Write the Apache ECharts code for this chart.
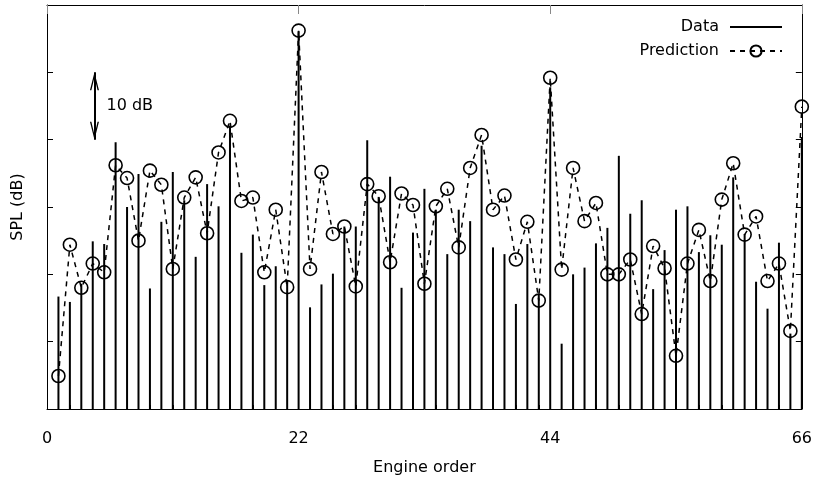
<!DOCTYPE html>
<html>
<head>
<meta charset="utf-8">
<script src="https://cdn.jsdelivr.net/npm/echarts@6/dist/echarts.min.js"></script>
<style>
html,body{margin:0;padding:0;background:#fff;}
#chart{width:815px;height:485px;}
</style>
</head>
<body>
<div id="chart"></div>
<script>
// Engine orders 1..66
var orders = [];
for (var i = 1; i <= 66; i++) orders.push(i);

// Measured SPL (dB, relative) per engine order
var dataSPL = [
  16.7, 15.9, 18.6, 24.9, 24.5, 39.6, 30.0, 34.9, 17.9, 27.8,
  35.2, 31.0, 22.6, 33.4, 30.1, 42.1, 23.2, 25.9, 18.4, 21.2,
  18.9, 56.1, 15.1, 18.5, 20.1, 27.1, 27.1, 39.9, 31.5, 34.5,
  18.0, 26.2, 32.7, 29.6, 23.0, 29.6, 27.9, 39.1, 24.0, 23.0,
  15.6, 24.5, 17.1, 47.8, 9.7, 20.0, 21.0, 24.6, 26.9, 37.6,
  29.0, 31.0, 17.8, 23.6, 29.6, 30.1, 23.3, 25.8, 24.4, 34.4,
  26.0, 18.9, 14.9, 24.7, 11.2, 40.4
];

// Predicted SPL per engine order
var predSPL = [
  4.9, 24.4, 18.0, 21.6, 20.3, 36.2, 34.3, 25.0, 35.4, 33.3,
  20.8, 31.4, 34.4, 26.1, 38.1, 42.8, 30.9, 31.4, 20.3, 29.6,
  18.1, 56.2, 20.8, 35.2, 26.0, 27.1, 18.2, 33.4, 31.6, 21.8,
  32.0, 30.3, 18.6, 30.1, 32.7, 24.0, 35.8, 40.7, 29.6, 31.7,
  22.2, 27.8, 16.1, 49.2, 20.7, 35.8, 27.9, 30.6, 20.0, 20.0,
  22.2, 14.1, 24.2, 20.9, 7.9, 21.6, 26.6, 19.0, 31.1, 36.5,
  25.9, 28.6, 19.0, 21.6, 11.6, 44.9
];

// Axis ranges / ticks
var xMin = 0, xMax = 66, xStep = 22;
var yMin = 0, yMax = 60, yStep = 10;

// "10 dB" scale annotation
var scaleX = 4.15, scaleFrom = 40, scaleTo = 50;
var scaleLabelPos = [5.2, 45];
var scaleLabel = '10 dB';

var FONT = 'DejaVu Sans';
var FS = 16;
// open chevron arrow head, tip at the centre of its box
var ARROW = 'path://M4.5,0 L4.51,0 L4.5,0.01 Z M0,36 L4.5,18 L9,36 L7.6,36 L4.5,23 L1.4,36 Z';

var barData = orders.map(function (o, k) { return [o, dataSPL[k]]; });
var lineData = orders.map(function (o, k) { return [o, predSPL[k]]; });

var chart = echarts.init(document.getElementById('chart'), null, {renderer: 'canvas'});
chart.setOption({
  animation: false,
  backgroundColor: '#fff',
  textStyle: {fontFamily: FONT, color: '#000'},
  grid: {left: 47, right: 12, top: 5, bottom: 76, containLabel: false},
  legend: {
    orient: 'vertical',
    right: 27,
    top: 14,
    align: 'right',
    itemWidth: 52,
    itemHeight: 14,
    itemGap: 8,
    textStyle: {fontFamily: FONT, fontSize: FS, color: '#000', padding: [0, 6, 0, 0]},
    data: [
      {name: 'Data', icon: 'path://M0,0 H52 V2 H0 Z'},
      {name: 'Prediction'}
    ]
  },
  xAxis: [{
    type: 'value', min: xMin, max: xMax, interval: xStep,
    name: 'Engine order', nameLocation: 'middle', nameGap: 51,
    nameTextStyle: {fontFamily: FONT, fontSize: FS, color: '#000'},
    axisLine: {show: true, onZero: false, lineStyle: {color: '#000', width: 1}},
    axisTick: {show: true, inside: true, length: 8, lineStyle: {color: '#000'}},
    minorTick: {show: true, splitNumber: 22, length: 4, lineStyle: {color: '#000'}},
    axisLabel: {fontFamily: FONT, fontSize: FS, color: '#000', margin: 22},
    splitLine: {show: false}
  }, {
    type: 'value', min: xMin, max: xMax, interval: xStep, position: 'top',
    axisLine: {show: true, onZero: false, lineStyle: {color: '#000', width: 1}},
    axisTick: {show: true, inside: true, length: 9, lineStyle: {color: '#888'}},
    axisLabel: {show: false}, splitLine: {show: false}
  }],
  yAxis: [{
    type: 'value', min: yMin, max: yMax, interval: yStep,
    name: 'SPL (dB)', nameLocation: 'middle', nameGap: 21,
    nameTextStyle: {fontFamily: FONT, fontSize: FS, color: '#000'},
    axisLine: {show: true, onZero: false, lineStyle: {color: '#000', width: 1}},
    axisTick: {show: true, inside: true, length: 6, lineStyle: {color: '#000'}},
    axisLabel: {show: false}, splitLine: {show: false}
  }, {
    type: 'value', min: yMin, max: yMax, interval: yStep, position: 'right',
    axisLine: {show: true, onZero: false, lineStyle: {color: '#000', width: 1}},
    axisTick: {show: true, inside: true, length: 6, lineStyle: {color: '#000'}},
    axisLabel: {show: false}, splitLine: {show: false}
  }],
  series: [{
    name: 'Data',
    type: 'bar',
    xAxisIndex: 0, yAxisIndex: 0,
    barWidth: 2,
    itemStyle: {color: '#000'},
    data: barData,
    z: 2
  }, {
    name: 'Prediction',
    type: 'line',
    xAxisIndex: 0, yAxisIndex: 0,
    symbol: 'circle',
    symbolSize: 13,
    showAllSymbol: true,
    itemStyle: {color: 'rgba(0,0,0,0)', borderColor: '#000', borderWidth: 1.6},
    lineStyle: {color: '#000', width: 1.5, type: [5, 5]},
    data: lineData,
    z: 3,
    markLine: {
      silent: true,
      symbol: [ARROW, ARROW],
      symbolSize: [9, 36],
      symbolKeepAspect: true,
      lineStyle: {color: '#000', width: 2, type: 'solid'},
      label: {show: false},
      data: [[{coord: [scaleX, scaleFrom]}, {coord: [scaleX, scaleTo]}]]
    },
    markPoint: {
      silent: true,
      symbol: 'circle', symbolSize: 0,
      label: {show: true, position: 'right', distance: 0, formatter: scaleLabel,
        fontFamily: FONT, fontSize: FS, color: '#000'},
      data: [{coord: scaleLabelPos}]
    }
  }]
});
</script>
</body>
</html>
